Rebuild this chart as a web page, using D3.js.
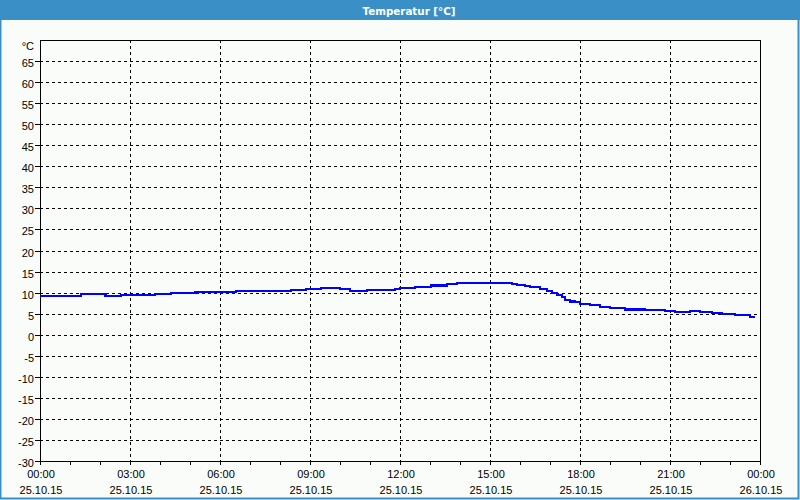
<!DOCTYPE html>
<html><head><meta charset="utf-8">
<script src="https://cdn.jsdelivr.net/npm/d3@7/dist/d3.min.js"></script>
<style>
html,body{margin:0;padding:0;background:#fafcfa;}
svg{display:block;}
text{font-family:"Liberation Sans",Arial,sans-serif;font-size:11px;fill:#000;}
</style></head>
<body>
<svg id="c" width="800" height="500"></svg>
<script>
const title = "Temperatur [°C]";
const yUnit = "°C";
// time in decimal hours since 25.10.15 00:00, temperature in °C (run starts)
const hours = [0.00,1.36,2.18,2.69,3.84,4.37,5.17,6.52,8.37,8.86,9.37,10.00,10.33,10.89,11.83,12.00,12.50,13.03,13.56,13.89,14.19,14.37,15.03,15.72,15.89,16.17,16.33,16.67,16.89,17.06,17.22,17.39,17.50,17.67,17.83,18.00,18.33,18.67,19.00,19.50,20.17,20.83,21.17,21.67,22.00,22.39,22.72,23.17,23.67,23.83];
const temps = [9.25,9.6,9.2,9.5,9.75,10.0,10.2,10.45,10.7,10.9,11.15,10.85,10.45,10.6,10.85,11.15,11.4,11.7,11.95,12.2,12.35,12.2,12.35,12.1,11.9,11.55,11.3,10.85,10.45,10.0,9.45,8.9,8.2,7.9,7.7,7.3,7.0,6.65,6.4,6.0,5.8,5.55,5.3,5.7,5.4,5.1,4.85,4.6,4.25,4.25];
const yTicks = [-30,-25,-20,-15,-10,-5,0,5,10,15,20,25,30,35,40,45,50,55,60,65];
const xMajor = [0,3,6,9,12,15,18,21,24];
const xTimeLabels = ["00:00","03:00","06:00","09:00","12:00","15:00","18:00","21:00","00:00"];
const xDateLabels = ["25.10.15","25.10.15","25.10.15","25.10.15","25.10.15","25.10.15","25.10.15","25.10.15","26.10.15"];
const xMinor = d3.range(0,25,1);

const svg = d3.select("#c");
const W=800,H=500;
const x = d3.scaleLinear().domain([0,24]).range([40,760]);
const y = d3.scaleLinear().domain([-30,70]).range([461,40]);
const blue = "#3b8fc7";

// frame
svg.append("rect").attr("x",0).attr("y",0).attr("width",W).attr("height",H).attr("fill","#fafcfa");
svg.append("rect").attr("x",0.5).attr("y",0.5).attr("width",W-2).attr("height",H-2)
  .attr("fill","none").attr("stroke",blue).attr("stroke-width",2);
svg.append("rect").attr("x",0).attr("y",0).attr("width",W).attr("height",20).attr("fill",blue);
svg.append("text").attr("x",409).attr("y",14.5).attr("text-anchor","middle")
  .style("fill","#fff").style("font-weight","bold").style("font-family","DejaVu Sans, sans-serif")
  .attr("textLength",93).attr("lengthAdjust","spacingAndGlyphs").text(title);

const g = svg.append("g").attr("shape-rendering","crispEdges");
// horizontal grid
g.selectAll("line.hg").data(yTicks.filter(v=>v>-30)).enter().append("line")
  .attr("x1",x(0)).attr("x2",x(24)).attr("y1",d=>Math.round(y(d))+0.5).attr("y2",d=>Math.round(y(d))+0.5)
  .attr("stroke","#000").attr("stroke-dasharray","3,3");
// vertical grid
g.selectAll("line.vg").data(xMajor.slice(1,-1)).enter().append("line")
  .attr("y1",y(70)).attr("y2",y(-30)).attr("x1",d=>Math.round(x(d))+0.5).attr("x2",d=>Math.round(x(d))+0.5)
  .attr("stroke","#000").attr("stroke-dasharray","3,3");
// y ticks
g.selectAll("line.yt").data(yTicks).enter().append("line")
  .attr("x1",35).attr("x2",40).attr("y1",d=>Math.round(y(d))+0.5).attr("y2",d=>Math.round(y(d))+0.5)
  .attr("stroke","#000");
// x ticks
g.selectAll("line.xt").data(xMinor).enter().append("line")
  .attr("y1",461).attr("y2",465).attr("x1",d=>Math.round(x(d))+0.5).attr("x2",d=>Math.round(x(d))+0.5)
  .attr("stroke","#000");
// plot box
g.append("rect").attr("x",40.5).attr("y",40.5).attr("width",720).attr("height",421)
  .attr("fill","none").attr("stroke","#000");

// y labels
svg.selectAll("text.yl").data(yTicks).enter().append("text")
  .attr("x",34).attr("y",d=>Math.round(y(d))+5.5).attr("text-anchor","end").text(d=>d);
svg.append("text").attr("x",34).attr("y",50).attr("text-anchor","end").text(yUnit);
// x labels
svg.selectAll("text.xl").data(xMajor).enter().append("text")
  .attr("x",d=>x(d)+1).attr("y",478).attr("text-anchor","middle").text((d,i)=>xTimeLabels[i]);
svg.selectAll("text.xd").data(xMajor).enter().append("text")
  .attr("x",d=>x(d)+1).attr("y",494).attr("text-anchor","middle").text((d,i)=>xDateLabels[i]);

// line
const data = hours.map((h,i)=>({h,v:temps[i]}));
const line = d3.line().x(d=>x(d.h)).y(d=>y(d.v)).curve(d3.curveStepAfter);
svg.append("path").datum(data).attr("d",line).attr("fill","none")
  .attr("stroke","#0000ff").attr("stroke-width",2.2).attr("shape-rendering","crispEdges");
</script>
</body></html>
